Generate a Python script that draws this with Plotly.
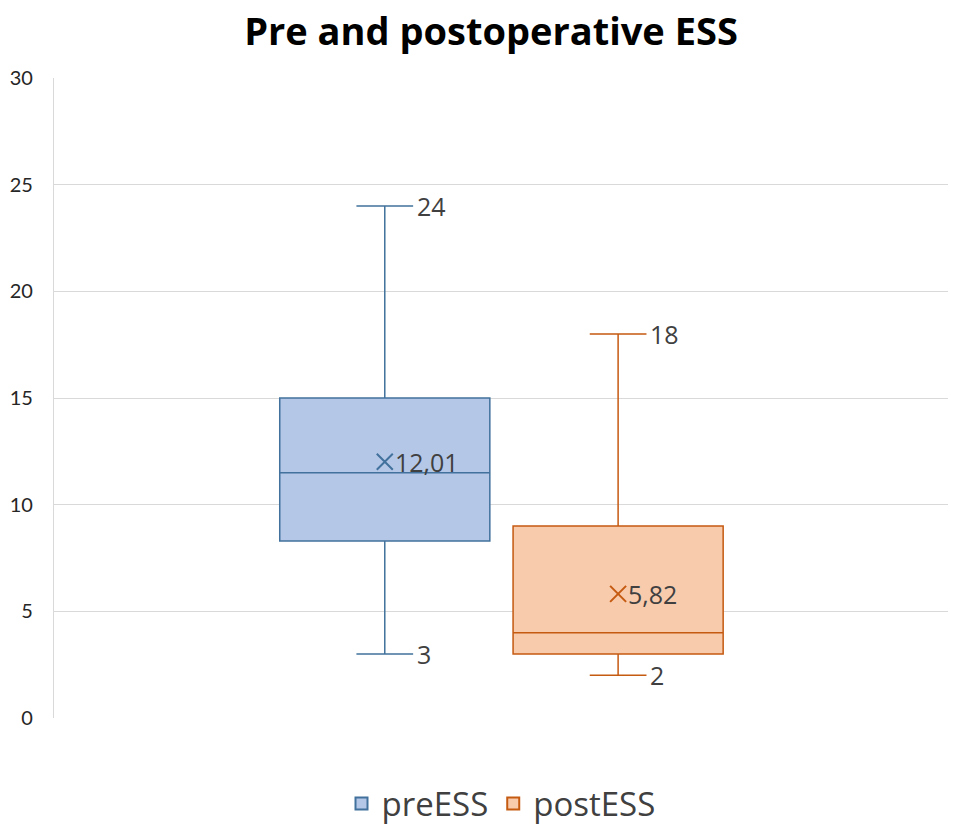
import plotly.graph_objects as go

# ---- data ----
series = ["preESS", "postESS"]
q1 = [8.3, 3.0]
median = [11.5, 4.0]
q3 = [15.0, 9.0]
lower = [3, 2]
upper = [24, 18]
mean = [12.01, 5.82]
mean_labels = ["12,01", "5,82"]
y_ticks = [0, 5, 10, 15, 20, 25, 30]

# ---- styling / layout ----
positions = [-0.13, 0.131]
box_width = 0.235
whisker_w = 0.27
fills = ["#b4c7e7", "#f8cbad"]
lines = ["#41719c", "#c55a11"]
text_color = "#404040"

fig = go.Figure()
for i, name in enumerate(series):
    fig.add_trace(go.Box(
        name=name, x=[positions[i]], q1=[q1[i]], median=[median[i]], q3=[q3[i]],
        lowerfence=[lower[i]], upperfence=[upper[i]],
        width=box_width, whiskerwidth=whisker_w,
        fillcolor=fills[i], line=dict(color=lines[i], width=1.5),
        boxpoints=False, hoverinfo="skip", showlegend=False,
    ))
for i, name in enumerate(series):
    fig.add_trace(go.Scatter(
        x=[positions[i]], y=[mean[i]], mode="markers",
        marker=dict(symbol="x-thin", size=16, line=dict(color=lines[i], width=2)),
        showlegend=False, hoverinfo="skip",
    ))
    cap_right = positions[i] + box_width * whisker_w / 2
    for val in (upper[i], lower[i]):
        fig.add_annotation(x=cap_right, y=val, text=str(val), showarrow=False,
                           xanchor="left", yanchor="middle", xshift=2,
                           font=dict(size=25, color=text_color, family="Open Sans"))
    fig.add_annotation(x=positions[i], y=mean[i], text=mean_labels[i], showarrow=False,
                       xanchor="left", yanchor="middle", xshift=8,
                       font=dict(size=25, color=text_color, family="Open Sans"))
# legend entries
for i, name in enumerate(series):
    fig.add_trace(go.Scatter(
        x=[None], y=[None], mode="markers", name=name,
        marker=dict(symbol="square", size=20, color=fills[i],
                    line=dict(color=lines[i], width=2)),
        hoverinfo="skip",
    ))

fig.update_layout(
    width=966, height=836,
    margin=dict(l=46, r=26, t=70, b=126),
    paper_bgcolor="white", plot_bgcolor="white",
    title=dict(text="<b>Pre and postoperative ESS</b>", x=0.5, xanchor="center",
               y=0.972, yanchor="middle",
               font=dict(size=38, color="black", family="Open Sans")),
    showlegend=True,
    legend=dict(orientation="h", x=0.5, xanchor="center", y=-0.09, yanchor="top",
                font=dict(size=33, color=text_color, family="Open Sans"),
                itemsizing="constant", itemwidth=30, tracegroupgap=0),
    xaxis=dict(range=[-0.5, 0.5], showticklabels=False, showgrid=False,
               zeroline=False, showline=False, ticks="", automargin=False),
    yaxis=dict(range=[0, 30], tickvals=y_ticks, showgrid=True, gridcolor="#d9d9d9",
               gridwidth=1.3, zeroline=False, showline=True, linecolor="#d9d9d9",
               linewidth=1.3, ticks="", ticklabelstandoff=16, automargin=False,
               tickfont=dict(size=20, color="#262626", family="Lato")),
)
fig.write_html("out.html")
